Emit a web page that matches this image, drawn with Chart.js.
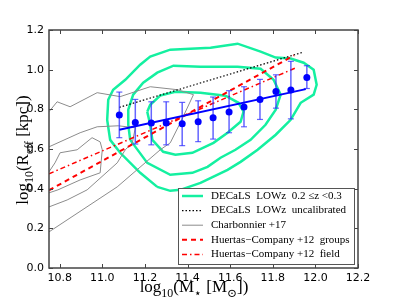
<!DOCTYPE html>
<html>
<head>
<meta charset="utf-8">
<script src="https://cdn.jsdelivr.net/npm/chart.js@4.4.0/dist/chart.umd.min.js"></script>
<style>
  html, body { margin: 0; padding: 0; background: #fff; }
</style>
</head>
<body>
<canvas id="chart" width="399" height="299"></canvas>
<script>
// binned medians (blue points) with 1-sigma spread
const massBins   = [11.08, 11.155, 11.23, 11.30, 11.375, 11.45, 11.52, 11.595, 11.665, 11.74, 11.815, 11.885, 11.96];
const sizeMedian = [0.772, 0.734, 0.731, 0.731, 0.727, 0.737, 0.757, 0.787, 0.812, 0.850, 0.890, 0.897, 0.960];
const sizeHigh   = [0.887, 0.850, 0.838, 0.838, 0.835, 0.843, 0.862, 0.894, 0.914, 0.951, 0.974, 1.042, 1.020];
const sizeLow    = [0.657, 0.625, 0.621, 0.621, 0.617, 0.637, 0.650, 0.682, 0.712, 0.749, 0.806, 0.752, 0.905];

// straight relations
const fitMass = [11.08, 11.955];
const fitSize = [0.697, 0.902];
const uncalMass = [11.08, 11.945];
const uncalSize = [0.81, 1.089];
const groupsMass = [10.75, 11.90];
const groupsSize = [0.392, 1.072];
const fieldMass = [10.75, 11.91];
const fieldSize = [0.475, 1.01];

// DECaLS density contours
const outerMass = [11.258, 11.178, 11.084, 11.037, 11.023, 11.028, 11.051, 11.108, 11.178, 11.225, 11.319, 11.508, 11.635, 11.743, 11.814, 11.884, 11.945, 11.992, 12.006, 11.992, 11.931, 11.884, 11.814, 11.729, 11.649, 11.588, 11.461, 11.366, 11.319];
const outerSize = [0.409, 0.480, 0.581, 0.646, 0.747, 0.848, 0.899, 0.949, 1.025, 1.066, 1.101, 1.111, 1.131, 1.091, 1.061, 1.056, 1.035, 1.000, 0.924, 0.874, 0.833, 0.747, 0.672, 0.596, 0.535, 0.495, 0.429, 0.394, 0.389];
const midMass = [11.131, 11.122, 11.122, 11.145, 11.192, 11.258, 11.334, 11.461, 11.635, 11.743, 11.804, 11.837, 11.814, 11.766, 11.696, 11.625, 11.555, 11.494, 11.423, 11.319, 11.211];
const midSize = [0.646, 0.722, 0.798, 0.874, 0.934, 0.985, 1.020, 1.015, 1.015, 1.005, 0.949, 0.874, 0.798, 0.722, 0.646, 0.596, 0.556, 0.510, 0.480, 0.470, 0.530];
const innerMass = [11.211, 11.225, 11.235, 11.286, 11.343, 11.423, 11.522, 11.588, 11.649, 11.663, 11.639, 11.578, 11.461, 11.343, 11.272, 11.225];
const innerSize = [0.788, 0.722, 0.646, 0.586, 0.571, 0.581, 0.631, 0.682, 0.737, 0.788, 0.833, 0.869, 0.884, 0.889, 0.869, 0.823];

// Charbonnier+17 contours
const charAMass = [10.75, 10.788, 10.849, 10.976, 11.084, 11.225, 11.352, 11.428, 11.366, 11.319, 11.272, 11.070, 10.75];
const charASize = [0.788, 0.838, 0.813, 0.884, 0.864, 0.914, 0.899, 0.874, 0.732, 0.631, 0.596, 0.409, 0.182];
const charBMass = [10.75, 10.792, 10.896, 10.99, 11.0, 10.99, 10.952, 10.882, 10.802, 10.778, 10.75];
const charBSize = [0.379, 0.394, 0.444, 0.480, 0.596, 0.636, 0.657, 0.596, 0.581, 0.530, 0.485];
const charCMass = [10.75, 10.835, 10.929, 11.07, 11.108, 11.141, 11.155, 11.075, 10.976, 10.896, 10.75];
const charCSize = [0.308, 0.343, 0.394, 0.530, 0.596, 0.631, 0.707, 0.717, 0.712, 0.682, 0.611];

const xTicks = [10.8, 11.0, 11.2, 11.4, 11.6, 11.8, 12.0, 12.2];
const yTicks = [0.0, 0.2, 0.4, 0.6, 0.8, 1.0, 1.2];

const GREEN = 'rgb(20,240,160)';
const SERIF = '"Liberation Serif", "DejaVu Serif", serif';

function pts(xs, ys) { return xs.map((x, i) => ({ x: x, y: ys[i] })); }
function closed(xs, ys) { const p = pts(xs, ys); p.push(p[0]); return p; }

const errData = [];
massBins.forEach((m, i) => {
    errData.push({ x: m, y: sizeLow[i] }, { x: m, y: sizeHigh[i] }, { x: m, y: null });
});

function lineSet(label, data, color, width, dash, order) {
    return {
        label: label, data: data, showLine: true, borderColor: color, backgroundColor: color,
        borderWidth: width, borderDash: dash, pointRadius: 0, fill: false, tension: 0, order: order
    };
}

const datasets = [
    lineSet('DECaLS  LOWz  0.2 \u2264z <0.3', closed(outerMass, outerSize), GREEN, 2.5, [], 6),
    lineSet('', closed(midMass, midSize), GREEN, 2.5, [], 6),
    lineSet('', closed(innerMass, innerSize), GREEN, 2.5, [], 6),
    lineSet('DECaLS  LOWz  uncalibrated', pts(uncalMass, uncalSize), '#000', 1.2, [1.5, 2], 4),
    lineSet('Charbonnier +17', pts(charAMass, charASize), '#8c8c8c', 1, [], 5),
    lineSet('', pts(charBMass, charBSize), '#8c8c8c', 1, [], 5),
    lineSet('', pts(charCMass, charCSize), '#8c8c8c', 1, [], 5),
    lineSet('Huertas\u2212Company +12  groups', pts(groupsMass, groupsSize), '#ff0000', 2, [5, 4], 3),
    lineSet('Huertas\u2212Company +12  field', pts(fieldMass, fieldSize), '#ff0000', 1.5, [5, 3, 1.5, 3], 3),
    {
        label: '', data: errData, showLine: true, spanGaps: false,
        borderColor: 'rgba(50,50,255,0.75)', borderWidth: 1.5,
        pointStyle: 'line', pointRadius: c => (c.raw && c.raw.y != null ? 3 : 0),
        pointBorderColor: 'rgba(50,50,255,0.75)', pointBorderWidth: 1.2, order: 2
    },
    lineSet('', pts(fitMass, fitSize), '#0000ff', 2, [], 1),
    {
        label: '', data: pts(massBins, sizeMedian), showLine: false,
        pointRadius: 3.5, pointBackgroundColor: '#0000ff', pointBorderColor: '#0000ff',
        pointBorderWidth: 0, order: 0
    }
];

function drawRich(ctx, parts, size) {
    // parts: [text, isSub]; draws centred at the origin
    let w = 0;
    const widths = parts.map(p => {
        ctx.font = (p[1] ? size * 0.7 : size) + 'px ' + SERIF;
        const m = ctx.measureText(p[0]).width;
        w += m;
        return m;
    });
    let x = -w / 2;
    parts.forEach((p, i) => {
        ctx.font = (p[1] ? size * 0.7 : size) + 'px ' + SERIF;
        ctx.fillText(p[0], x, p[1] ? size * 0.3 : 0);
        x += widths[i];
    });
}

const decorPlugin = {
    id: 'decor',
    afterDatasetsDraw(chart) {
        const ctx = chart.ctx;
        const a = chart.chartArea;
        const xs = chart.scales.x, ys = chart.scales.y;
        ctx.save();
        ctx.strokeStyle = '#444';
        ctx.lineWidth = 1;
        xTicks.forEach(v => {
            const p = Math.round(xs.getPixelForValue(v)) + 0.5;
            ctx.beginPath();
            ctx.moveTo(p, a.bottom); ctx.lineTo(p, a.bottom - 4);
            ctx.moveTo(p, a.top); ctx.lineTo(p, a.top + 4);
            ctx.stroke();
        });
        yTicks.forEach(v => {
            const p = Math.round(ys.getPixelForValue(v)) + 0.5;
            ctx.beginPath();
            ctx.moveTo(a.left, p); ctx.lineTo(a.left + 4, p);
            ctx.moveTo(a.right, p); ctx.lineTo(a.right - 4, p);
            ctx.stroke();
        });
        ctx.lineWidth = 1.5;
        ctx.strokeRect(a.left, a.top, a.right - a.left, a.bottom - a.top);

        // legend
        const items = chart.data.datasets.filter(d => d.label);
        const bx = 178, by = 188, bw = 176, bh = 76;
        ctx.fillStyle = '#fff';
        ctx.fillRect(bx, by, bw, bh);
        ctx.strokeStyle = '#555';
        ctx.lineWidth = 1;
        ctx.strokeRect(bx + 0.5, by + 0.5, bw, bh);
        items.forEach((d, i) => {
            const y = by + 8 + i * 14.6;
            ctx.save();
            ctx.strokeStyle = d.borderColor;
            ctx.lineWidth = d.borderWidth;
            ctx.setLineDash(d.borderDash || []);
            ctx.beginPath();
            ctx.moveTo(bx + 4, y); ctx.lineTo(bx + 25, y);
            ctx.stroke();
            ctx.restore();
            ctx.fillStyle = '#000';
            ctx.font = '11px ' + SERIF;
            ctx.textBaseline = 'middle';
            ctx.textAlign = 'left';
            ctx.fillText(d.label, bx + 33, y);
        });

        // axis titles
        ctx.fillStyle = '#000';
        ctx.textAlign = 'left';
        ctx.textBaseline = 'alphabetic';
        ctx.save();
        ctx.translate(194, 292);
        drawRich(ctx, [['log', 0], ['10', 1], ['(M', 0], ['\u22c6', 1], [' [M', 0], ['\u2299', 1], ['])', 0]], 17);
        ctx.restore();
        ctx.save();
        ctx.translate(28, 150);
        ctx.rotate(-Math.PI / 2);
        drawRich(ctx, [['log', 0], ['10', 1], ['(R', 0], ['eff', 1], [' [kpc])', 0]], 17);
        ctx.restore();
        ctx.restore();
    }
};

new Chart(document.getElementById('chart'), {
    type: 'scatter',
    data: { datasets: datasets },
    options: {
        responsive: false,
        animation: false,
        layout: { padding: { top: 30, right: 41, left: 0, bottom: 0 } },
        plugins: { legend: { display: false }, tooltip: { enabled: false } },
        scales: {
            x: {
                min: 10.75, max: 12.2,
                afterFit: s => { s.height = 31; },
                afterBuildTicks: s => { s.ticks = xTicks.map(v => ({ value: v })); },
                grid: { display: false, drawTicks: false },
                border: { display: false },
                ticks: {
                    padding: 4, color: '#000', maxRotation: 0, autoSkip: false,
                    font: { family: '"DejaVu Sans"', size: 11 },
                    callback: v => v.toFixed(1)
                }
            },
            y: {
                min: 0, max: 1.2,
                afterFit: s => { s.width = 49; },
                afterBuildTicks: s => { s.ticks = yTicks.map(v => ({ value: v })); },
                grid: { display: false, drawTicks: false },
                border: { display: false },
                ticks: {
                    padding: 5, color: '#000', autoSkip: false,
                    font: { family: '"DejaVu Sans"', size: 11 },
                    callback: v => v.toFixed(1)
                }
            }
        }
    },
    plugins: [decorPlugin]
});
</script>
</body>
</html>
